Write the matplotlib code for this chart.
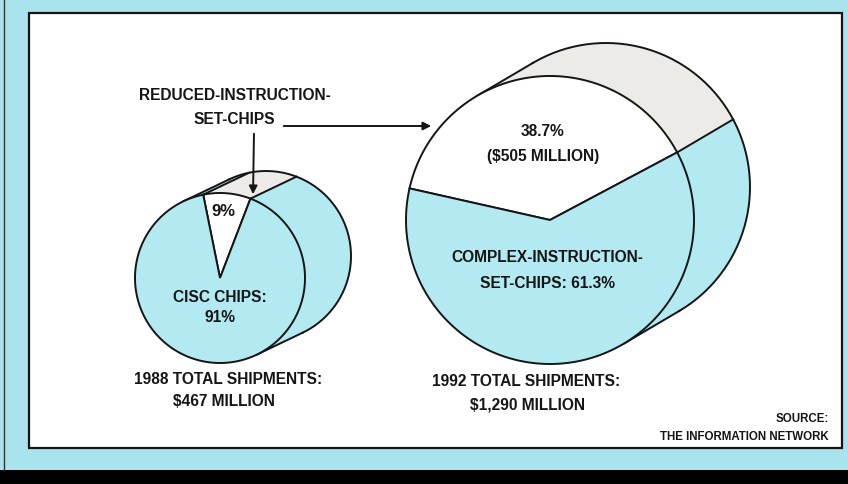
import numpy as np
import matplotlib
matplotlib.use("Agg")
import matplotlib.pyplot as plt
from matplotlib.patches import Rectangle

plt.rcParams['font.family'] = ['Liberation Sans', 'DejaVu Sans']

# data
years = [1988, 1992]
totals = [467, 1290]                 # $ million
risc_share = [9, 38.7]               # percent
cisc_share = [91, 61.3]
risc_1992_value = 505                # $ million, as printed

CYAN = '#b3e9f1'
BORDER = '#a9e4ee'
GRAY = '#ecebe8'
INK = '#151515'


def rim(c, r, t):
    t = np.radians(t)
    return np.column_stack([c[0] + r * np.cos(t), c[1] - r * np.sin(t)])


def draw_coin(ax, c, r, d, shares, start, faces, sides):
    edges = start + 360 * np.cumsum([0] + list(shares)) / 100.0
    phi = np.degrees(np.arctan2(-d[1], d[0]))
    lo, hi = phi - 90, phi + 90
    d = np.array(d)

    # side wall
    for i in range(len(shares)):
        a, b = edges[i], edges[i + 1]
        for k in (-1, 0, 1):
            p, q = max(a, lo + 360 * k), min(b, hi + 360 * k)
            if q <= p:
                continue
            t = np.linspace(p, q, 120)
            front = rim(c, r, t)
            poly = np.vstack([front, (front + d)[::-1]])
            ax.fill(poly[:, 0], poly[:, 1], color=sides[i], lw=0.6, zorder=2)

    # outline of the back and the side
    back = rim(c, r, np.linspace(lo, hi, 200)) + d
    ax.plot(back[:, 0], back[:, 1], color=INK, lw=1.4, zorder=3)
    for ang in [lo, hi] + list(edges[:-1]):
        ok = any(lo + 360 * k <= ang <= hi + 360 * k for k in (-1, 0, 1))
        if not ok:
            continue
        p0 = rim(c, r, [ang])[0]
        p1 = p0 + d
        ax.plot([p0[0], p1[0]], [p0[1], p1[1]], color=INK, lw=1.4, zorder=3)

    # front face
    for i in range(len(shares)):
        t = np.linspace(edges[i], edges[i + 1], 200)
        arc = rim(c, r, t)
        poly = np.vstack([[c], arc, [c]])
        ax.fill(poly[:, 0], poly[:, 1], facecolor=faces[i], edgecolor=INK,
                lw=1.4, joinstyle='miter', zorder=4)


fig = plt.figure(figsize=(8.48, 4.84), dpi=100, facecolor=BORDER)
ax = fig.add_axes([0, 0, 1, 1])
ax.set_xlim(0, 848)
ax.set_ylim(484, 0)
ax.axis('off')

ax.add_patch(Rectangle((29, 13), 813, 435, facecolor='white', edgecolor=INK, lw=1.6, zorder=1))
ax.add_patch(Rectangle((0, 470), 848, 14, facecolor='black', edgecolor='none', zorder=1))
ax.plot([4, 4], [0, 470], color='#333333', lw=1, zorder=1)

draw_coin(ax, (220, 278), 85, (46, -22), [risc_share[0], cisc_share[0]], 69,
          ['white', CYAN], [GRAY, CYAN])
draw_coin(ax, (550, 220), 144, (56, -33), [risc_share[1], cisc_share[1]], 28,
          ['white', CYAN], [GRAY, CYAN])

txt = dict(ha='center', va='center', fontsize=11.2, fontweight='bold', color=INK, zorder=6)

ax.text(235, 95, 'REDUCED-INSTRUCTION-', **txt)
ax.text(234, 120, 'SET-CHIPS', **txt)
ax.annotate('', xy=(434, 126), xytext=(281, 126), zorder=6,
            arrowprops=dict(arrowstyle='-|>', color=INK, lw=1.4, mutation_scale=12))
ax.annotate('', xy=(253, 197), xytext=(254, 131), zorder=6,
            arrowprops=dict(arrowstyle='-|>', color=INK, lw=1.4, mutation_scale=12))

ax.text(223, 211, f'{risc_share[0]:g}%', **dict(txt, fontsize=12))
ax.text(220, 297, 'CISC CHIPS:', **txt)
ax.text(220, 318, f'{cisc_share[0]:g}%', **txt)

ax.text(543, 132, f'{risc_share[1]:g}%', **txt)
ax.text(543, 157, f'(${risc_1992_value} MILLION)', **txt)
ax.text(547, 258, 'COMPLEX-INSTRUCTION-', **txt)
ax.text(548, 283, f'SET-CHIPS: {cisc_share[1]:g}%', **txt)

ax.text(228, 380, f'{years[0]} TOTAL SHIPMENTS:', **txt)
ax.text(224, 402, f'${totals[0]:,} MILLION', **txt)
ax.text(526, 382, f'{years[1]} TOTAL SHIPMENTS:', **txt)
ax.text(528, 405, f'${totals[1]:,} MILLION', **txt)

src = dict(ha='right', va='center', fontsize=8.3, fontweight='bold', color=INK, zorder=6)
ax.text(829, 419, 'SOURCE:', **src)
ax.text(829, 437, 'THE INFORMATION NETWORK', **src)

fig.savefig('out.png', dpi=100, facecolor=BORDER)
